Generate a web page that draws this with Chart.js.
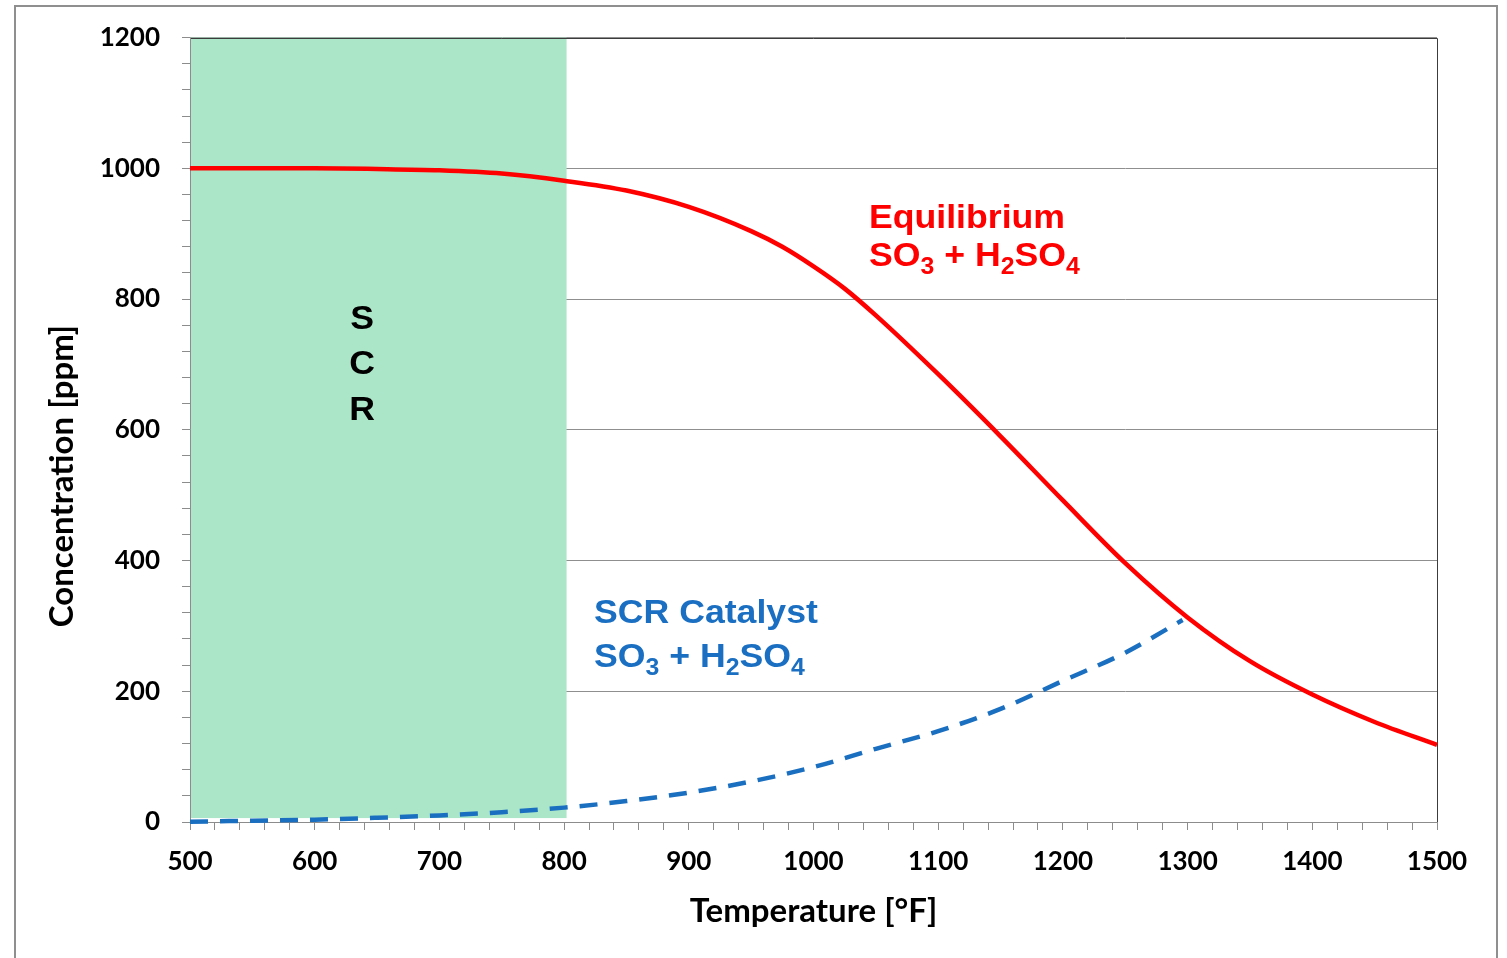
<!DOCTYPE html>
<html>
<head>
<meta charset="utf-8">
<script src="https://cdn.jsdelivr.net/npm/chart.js@4.4.1/dist/chart.umd.min.js"></script>
<style>
html,body{margin:0;padding:0;background:#ffffff;}
#wrap{position:relative;width:1507px;height:958px;overflow:hidden;}
canvas{display:block;}
</style>
</head>
<body>
<div id="wrap"><canvas id="c" width="1507" height="958"></canvas></div>
<script>
// ---- Data ----
const temperatures   = [500, 550, 600, 650, 700, 750, 800, 850, 900, 950, 975, 1000, 1025, 1050, 1100, 1150, 1200, 1250, 1300, 1350, 1400, 1450, 1500];
const equilibriumPpm = [1000, 1000, 1000, 999, 997, 992, 981, 966, 941, 904, 880, 850, 816, 775, 685, 590, 492, 396, 313, 246, 195, 153, 118];

const catalystTemps  = [500, 550, 600, 650, 700, 750, 800, 850, 900, 950, 1000, 1050, 1100, 1150, 1200, 1250, 1296];
const catalystPpm    = [0.5, 2, 3.5, 6.5, 10, 15, 22, 32, 45, 62, 84, 112, 139, 173, 216, 259, 309];

const xTickLabels = [500, 600, 700, 800, 900, 1000, 1100, 1200, 1300, 1400, 1500];
const yTickLabels = [0, 200, 400, 600, 800, 1000, 1200];

const scrZoneTemps = [500, 802];
const scrZonePpm   = [6, 1200];

const xTitle = 'Temperature [°F]';
const yTitle = 'Concentration [ppm]';

// text labels: '_' marks next char as subscript
const textLabels = [
  {text: 'Equilibrium',        x: 1044.5, y: 927, color: '#ff0000', align: 'left'},
  {text: 'SO_3 + H_2SO_4',     x: 1044.5, y: 868, color: '#ff0000', align: 'left'},
  {text: 'SCR Catalyst',       x: 824,    y: 322, color: '#1a6fc2', align: 'left'},
  {text: 'SO_3 + H_2SO_4',     x: 824,    y: 255, color: '#1a6fc2', align: 'left'},
  {text: 'S',                  x: 638,    y: 772, color: '#000000', align: 'center'},
  {text: 'C',                  x: 638,    y: 703, color: '#000000', align: 'center'},
  {text: 'R',                  x: 638,    y: 633, color: '#000000', align: 'center'}
];

// ---- Styling ----
const TICK_FONT = {family: 'Lato', size: 26, weight: 'bold'};
const TITLE_FONT_FAMILY = 'Lato';
const ANNOT_FONT = 'Liberation Sans, Arial, sans-serif';
const ANNOT_SIZE = 33;
const ANNOT_STRETCH = 1.08;

function parseRich(str) {
  const parts = [];
  let buf = '';
  for (let i = 0; i < str.length; i++) {
    if (str[i] === '_' && i + 1 < str.length) {
      if (buf) { parts.push({t: buf, sub: false}); buf = ''; }
      parts.push({t: str[i + 1], sub: true});
      i++;
    } else buf += str[i];
  }
  if (buf) parts.push({t: buf, sub: false});
  return parts;
}

const decorPlugin = {
  id: 'decor',
  beforeDatasetsDraw(chart) {
    const {ctx, scales: {x, y}} = chart;
    const x0 = x.getPixelForValue(scrZoneTemps[0]);
    const x1 = x.getPixelForValue(scrZoneTemps[1]);
    const y0 = y.getPixelForValue(scrZonePpm[1]);
    const y1 = y.getPixelForValue(scrZonePpm[0]);
    ctx.save();
    ctx.fillStyle = '#abe6c9';
    ctx.fillRect(x0, y0, x1 - x0, y1 - y0);
    const a = chart.chartArea;
    ctx.strokeStyle = '#3c3c3c';
    ctx.lineWidth = 1;
    ctx.beginPath();
    ctx.moveTo(a.left, Math.round(a.top) + 0.5);
    ctx.lineTo(Math.round(a.right) + 0.5, Math.round(a.top) + 0.5);
    ctx.lineTo(Math.round(a.right) + 0.5, a.bottom);
    ctx.stroke();
    ctx.strokeStyle = '#8c8c8c';
    ctx.beginPath();
    ctx.moveTo(Math.round(a.left) + 0.5, a.top);
    ctx.lineTo(Math.round(a.left) + 0.5, a.bottom);
    ctx.stroke();
    ctx.restore();
  },
  afterDraw(chart) {
    const {ctx, scales: {x, y}} = chart;
    textLabels.forEach(lbl => {
      const parts = parseRich(lbl.text);
      const size = ANNOT_SIZE;
      const subSize = Math.round(size * 0.7);
      let total = 0;
      parts.forEach(p => {
        ctx.font = 'bold ' + (p.sub ? subSize : size) + 'px ' + ANNOT_FONT;
        p.w = ctx.measureText(p.t).width;
        total += p.w;
      });
      let px = x.getPixelForValue(lbl.x);
      if (lbl.align === 'center') px -= total * ANNOT_STRETCH / 2;
      const baseline = y.getPixelForValue(lbl.y) + size * 0.358;
      ctx.save();
      ctx.translate(px, baseline);
      ctx.scale(ANNOT_STRETCH, 1);
      ctx.fillStyle = lbl.color;
      ctx.textBaseline = 'alphabetic';
      ctx.textAlign = 'left';
      let cx = 0;
      parts.forEach(p => {
        ctx.font = 'bold ' + (p.sub ? subSize : size) + 'px ' + ANNOT_FONT;
        ctx.fillText(p.t, cx, p.sub ? size * 0.24 : 0);
        cx += p.w;
      });
      ctx.restore();
    });
    // y axis title
    ctx.save();
    ctx.font = 'bold 33px ' + TITLE_FONT_FAMILY;
    ctx.fillStyle = '#000000';
    ctx.textAlign = 'center';
    ctx.textBaseline = 'middle';
    ctx.translate(62, 476);
    ctx.rotate(-Math.PI / 2);
    ctx.fillText(yTitle, 0, 0);
    ctx.restore();
    // outer frame
    ctx.save();
    ctx.strokeStyle = '#8f8f8f';
    ctx.lineWidth = 2;
    ctx.strokeRect(15, 6, 1482, 1000);
    ctx.restore();
  }
};

const isX = v => xTickLabels.includes(Math.round(v));
const isY = v => yTickLabels.includes(Math.round(v));

new Chart(document.getElementById('c'), {
  type: 'line',
  data: {
    datasets: [
      {
        label: 'Equilibrium SO3 + H2SO4',
        data: temperatures.map((t, i) => ({x: t, y: equilibriumPpm[i]})),
        borderColor: '#ff0000',
        borderWidth: 4.5,
        pointRadius: 0,
        cubicInterpolationMode: 'monotone',
        fill: false,
        clip: 6
      },
      {
        label: 'SCR Catalyst SO3 + H2SO4',
        data: catalystTemps.map((t, i) => ({x: t, y: catalystPpm[i]})),
        borderColor: '#1b6fc1',
        borderWidth: 4.5,
        borderDash: [18, 12],
        pointRadius: 0,
        cubicInterpolationMode: 'monotone',
        fill: false,
        clip: 6
      }
    ]
  },
  options: {
    responsive: false,
    animation: false,
    devicePixelRatio: 1,
    layout: {padding: {left: 0, top: 37, right: 70, bottom: 0}},
    plugins: {legend: {display: false}, tooltip: {enabled: false}},
    scales: {
      x: {
        type: 'linear',
        min: 500, max: 1500,
        afterFit: s => { s.height = 136; },
        ticks: {
          stepSize: 20, autoSkip: false, maxRotation: 0, padding: 16,
          color: '#000000', font: TICK_FONT,
          callback: v => isX(v) ? String(Math.round(v)) : ''
        },
        grid: {drawOnChartArea: false, drawTicks: true, tickLength: 8, tickColor: '#8c8c8c', color: '#8c8c8c'},
        border: {display: true, color: '#8c8c8c', width: 1},
        title: {display: true, text: xTitle, color: '#000000',
                font: {family: TITLE_FONT_FAMILY, size: 33, weight: 'bold'}, padding: {top: 0, bottom: 27}}
      },
      y: {
        type: 'linear',
        min: 0, max: 1200,
        afterFit: s => { s.width = 190; },
        ticks: {
          stepSize: 40, autoSkip: false, padding: 22,
          color: '#000000', font: TICK_FONT,
          callback: v => isY(v) ? String(Math.round(v)) : ''
        },
        grid: {
          drawTicks: true, tickLength: 8, tickColor: '#8c8c8c',
          color: c => (c.tick && isY(c.tick.value) && c.tick.value > 0) ? '#8f8f8f' : 'rgba(0,0,0,0)',
          lineWidth: 1
        },
        border: {display: true, color: '#8c8c8c', width: 1}
      }
    }
  },
  plugins: [decorPlugin]
});
</script>
</body>
</html>
